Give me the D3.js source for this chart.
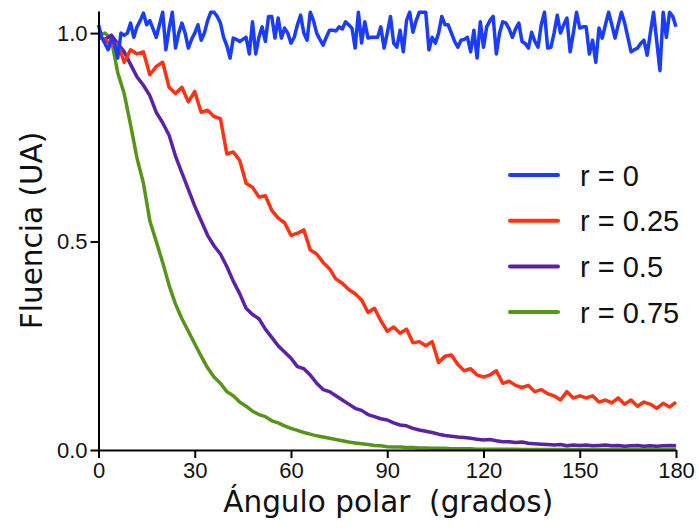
<!DOCTYPE html>
<html>
<head>
<meta charset="utf-8">
<script src="https://cdnjs.cloudflare.com/ajax/libs/d3/7.8.5/d3.min.js"></script>
<style>
  body { margin: 0; background: #fff; }
  svg { display: block; }
</style>
</head>
<body>
<script>
// angles (degrees)
var anglesFine = d3.range(0, 181, 1);
var anglesCoarse = d3.range(0, 181, 2);

// r = 0, one value per degree
var fluenceR0 = [
  1.02, 0.99, 0.975, 0.96, 0.985, 0.975, 0.94, 1.0, 0.995, 1.0,
  1.024, 0.99, 1.015, 1.03, 1.048, 1.02, 1.03, 1.01, 0.99, 1.02,
  1.05, 0.96, 1.01, 1.05, 0.964, 1.0, 1.024, 1.0, 0.964, 0.985,
  1.0, 1.02, 0.983, 1.0, 1.03, 1.05, 1.05, 1.04, 1.024, 0.99,
  0.97, 0.94, 0.988, 0.985, 0.98, 0.985, 0.99, 0.95, 1.027, 0.95,
  0.99, 1.015, 0.98, 1.04, 1.04, 0.988, 1.036, 0.988, 1.012, 1.0,
  0.976, 0.99, 1.02, 1.043, 1.0, 0.983, 1.05, 1.03, 1.0, 0.985,
  0.971, 0.99, 1.007, 1.007, 1.005, 1.015, 1.01, 1.027, 1.02, 1.012,
  0.964, 1.05, 0.976, 1.027, 0.988, 0.99, 0.99, 0.99, 1.015, 0.964,
  1.0, 1.04, 0.976, 0.966, 1.007, 0.955, 1.03, 1.05, 1.002, 1.03,
  1.05, 1.05, 1.05, 0.96, 0.99, 0.976, 1.0, 1.04, 1.02, 1.02,
  1.0, 0.98, 0.966, 0.983, 0.985, 0.99, 0.955, 1.007, 0.94, 1.027,
  0.966, 1.015, 1.03, 1.04, 0.95, 1.0, 1.027, 1.024, 1.01, 0.99,
  1.01, 1.024, 0.98, 0.975, 0.964, 1.002, 0.98, 0.966, 1.02, 1.05,
  0.964, 0.966, 1.0, 1.043, 1.0, 1.02, 1.036, 0.955, 1.0, 1.05,
  1.012, 1.015, 1.015, 0.95, 0.983, 0.93, 1.012, 0.988, 1.02, 1.05,
  1.02, 0.988, 1.02, 1.05, 1.024, 0.99, 0.955, 0.96, 0.964, 0.975,
  0.983, 0.947, 1.0, 1.05, 0.98, 0.91, 1.05, 0.99, 1.05, 1.04,
  1.015
];

// r = 0.25, 0.5, 0.75, one value every 2 degrees
var fluenceR025 = [
  0.99, 0.985, 0.97, 0.975, 0.93, 0.96, 0.95, 0.955, 0.90, 0.92,
  0.93, 0.87, 0.855, 0.87, 0.835, 0.86, 0.81, 0.815, 0.80, 0.795,
  0.71, 0.715, 0.695, 0.64, 0.63, 0.607, 0.61, 0.575, 0.556, 0.545,
  0.515, 0.52, 0.528, 0.48, 0.47, 0.45, 0.435, 0.41, 0.40, 0.385,
  0.375, 0.36, 0.33, 0.34, 0.31, 0.285, 0.295, 0.28, 0.29, 0.257,
  0.26, 0.25, 0.26, 0.21, 0.225, 0.228, 0.205, 0.19, 0.195, 0.18,
  0.175, 0.18, 0.19, 0.16, 0.165, 0.155, 0.15, 0.155, 0.14, 0.145,
  0.135, 0.13, 0.12, 0.14, 0.125, 0.13, 0.125, 0.13, 0.115, 0.12,
  0.113, 0.125, 0.11, 0.12, 0.105, 0.115, 0.11, 0.10, 0.112, 0.103,
  0.115
];

var fluenceR05 = [
  0.99, 0.985, 0.995, 0.975, 0.955, 0.925, 0.895, 0.875, 0.85, 0.81,
  0.785, 0.755, 0.705, 0.665, 0.625, 0.585, 0.55, 0.515, 0.49, 0.47,
  0.44, 0.405, 0.375, 0.34, 0.325, 0.315, 0.29, 0.27, 0.25, 0.235,
  0.22, 0.20, 0.195, 0.18, 0.16, 0.145, 0.14, 0.13, 0.12, 0.11,
  0.10, 0.095, 0.085, 0.08, 0.075, 0.072, 0.065, 0.06, 0.058, 0.052,
  0.048, 0.045, 0.042, 0.038, 0.035, 0.033, 0.031, 0.03, 0.028, 0.026,
  0.024, 0.025, 0.022, 0.02, 0.02, 0.018, 0.019, 0.016, 0.015, 0.014,
  0.013, 0.012, 0.013, 0.01, 0.012, 0.011, 0.012, 0.01, 0.011, 0.012,
  0.01, 0.011, 0.009, 0.01, 0.011, 0.009, 0.01, 0.009, 0.01, 0.011,
  0.01
];

var fluenceR075 = [
  0.995, 1.0, 0.985, 0.905, 0.855, 0.78, 0.70, 0.64, 0.55, 0.50,
  0.45, 0.395, 0.35, 0.315, 0.285, 0.255, 0.225, 0.197, 0.175, 0.16,
  0.14, 0.13, 0.115, 0.105, 0.093, 0.085, 0.08, 0.07, 0.065, 0.058,
  0.052, 0.047, 0.042, 0.038, 0.034, 0.031, 0.028, 0.025, 0.022, 0.019,
  0.017, 0.015, 0.013, 0.011, 0.01, 0.008, 0.007, 0.007, 0.006, 0.006,
  0.005, 0.005, 0.004, 0.004, 0.004, 0.003, 0.003, 0.003, 0.003, 0.002,
  0.002, 0.002, 0.002, 0.002, 0.002, 0.002, 0.001, 0.001, 0.001, 0.001,
  0.001, 0.001, 0.001, 0.001, 0.001, 0.001, 0.001, 0.001, 0.001, 0.001,
  0.001, 0.001, 0.001, 0.001, 0.001, 0.001, 0.001, 0.001, 0.001, 0.001,
  0.001
];

var seriesNames = ["r = 0", "r = 0.25", "r = 0.5", "r = 0.75"];
var seriesColors = ["#1a3cff", "#ff3314", "#5b22a6", "#57951a"];
var xTicks = [0, 30, 60, 90, 120, 150, 180];
var yTicks = [0, 0.5, 1.0];

var series = [
  { x: anglesFine, y: fluenceR0 },
  { x: anglesCoarse, y: fluenceR025 },
  { x: anglesCoarse, y: fluenceR05 },
  { x: anglesCoarse, y: fluenceR075 }
];

var W = 699, H = 531;
var margin = { top: 11, right: 23, bottom: 81, left: 98.5 };

var svg = d3.select("body").append("svg")
    .attr("width", W)
    .attr("height", H);

var x = d3.scaleLinear().domain([0, 180]).range([margin.left, W - margin.right]);
var y = d3.scaleLinear().domain([0, 1.053]).range([H - margin.bottom, margin.top]);

var line = d3.line()
    .x(function (d) { return x(d[0]); })
    .y(function (d) { return y(d[1]); });

// curves, green first so blue ends on top
svg.append("g").selectAll("path")
    .data(series.map(function (s, i) { return i; }).reverse())
    .enter()
    .append("path")
    .attr("fill", "none")
    .attr("stroke", function (i) { return seriesColors[i]; })
    .attr("stroke-width", 3.5)
    .attr("stroke-linejoin", "round")
    .attr("d", function (i) {
        return line(series[i].x.map(function (a, j) { return [a, series[i].y[j]]; }));
    });

// axes
var xAxis = svg.append("g")
    .attr("transform", "translate(0," + (H - margin.bottom) + ")")
    .call(d3.axisBottom(x).tickValues(xTicks).tickSize(8).tickPadding(3).tickSizeOuter(0));

var yAxis = svg.append("g")
    .attr("transform", "translate(" + margin.left + ",0)")
    .call(d3.axisLeft(y).tickValues(yTicks).tickFormat(d3.format(".1f")).tickSize(8).tickPadding(3).tickSizeOuter(0));

[xAxis, yAxis].forEach(function (g) {
    g.select(".domain").attr("stroke", "#000").attr("stroke-width", 2);
    g.selectAll(".tick line").attr("stroke", "#000").attr("stroke-width", 2);
    g.selectAll(".tick text")
        .attr("fill", "#111")
        .style("font-family", "'Liberation Sans', Arial, sans-serif")
        .style("font-size", "22px");
});
xAxis.selectAll(".tick text").attr("dy", "0.78em");

// axis titles
svg.append("text")
    .attr("x", (margin.left + W - margin.right) / 2 + 1)
    .attr("y", 512)
    .attr("text-anchor", "middle")
    .attr("xml:space", "preserve")
    .style("white-space", "pre")
    .style("font-family", "'DejaVu Sans', sans-serif")
    .style("font-size", "29.5px")
    .attr("fill", "#111")
    .text("Ángulo polar  (grados)");

svg.append("text")
    .attr("transform", "translate(42," + (margin.top + H - margin.bottom) / 2 + ") rotate(-90)")
    .attr("text-anchor", "middle")
    .style("font-family", "'DejaVu Sans', sans-serif")
    .style("font-size", "29.5px")
    .attr("fill", "#111")
    .text("Fluencia (UA)");

// legend
var legend = svg.append("g").selectAll("g")
    .data(seriesNames)
    .enter()
    .append("g")
    .attr("transform", function (d, i) { return "translate(510," + (175 + i * 45.7) + ")"; });

legend.append("line")
    .attr("x1", 0).attr("x2", 48)
    .attr("stroke", function (d, i) { return seriesColors[i]; })
    .attr("stroke-width", 4)
    .attr("stroke-linecap", "round");

legend.append("text")
    .attr("x", 70)
    .attr("y", 10.5)
    .style("font-family", "'Liberation Sans', Arial, sans-serif")
    .style("font-size", "29px")
    .attr("fill", "#111")
    .text(function (d) { return d; });
</script>
</body>
</html>
